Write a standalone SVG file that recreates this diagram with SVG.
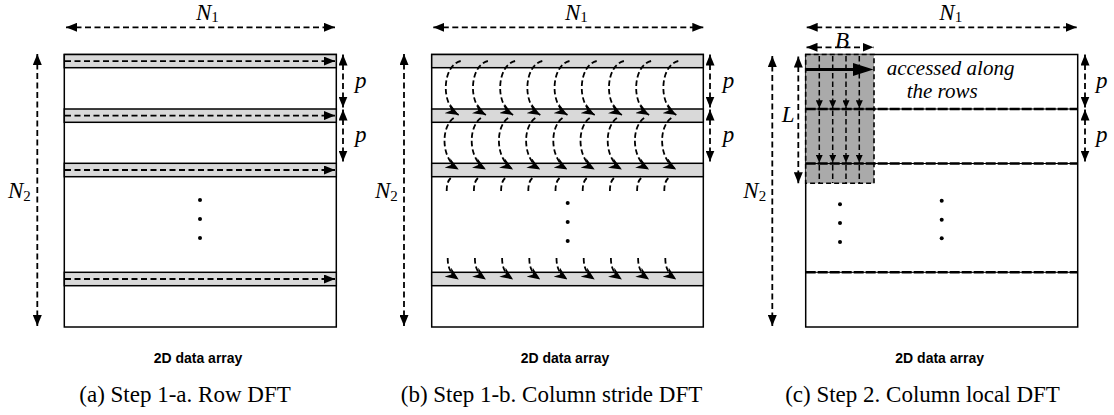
<svg xmlns="http://www.w3.org/2000/svg" xmlns:xlink="http://www.w3.org/1999/xlink" width="1114" height="415" viewBox="0 0 1114 415">
<style>
.frame{fill:#fff;stroke:#000;stroke-width:1.5}
.band{fill:#d9d9d9;stroke:#000;stroke-width:1.5}
.dash{fill:none;stroke:#000;stroke-width:1.8;stroke-dasharray:6 3.5}
.cdash{fill:none;stroke:#000;stroke-width:1.8;stroke-dasharray:5.5 3}
.math{font-family:"Liberation Serif","Times New Roman",serif;font-style:italic;font-size:23px;fill:#000}
.sub{font-style:normal;font-size:15px}
.lab{font-family:"Liberation Sans",Arial,sans-serif;font-weight:bold;font-size:14px;fill:#000;text-anchor:middle}
.cap{font-family:"Liberation Serif","Times New Roman",serif;font-size:23px;fill:#000;text-anchor:middle}
.acc{font-family:"Liberation Serif","Times New Roman",serif;font-style:italic;font-size:21px;fill:#000}
.dot{fill:#000}
</style>
<defs>
<marker id="ah" viewBox="0 0 11 9" markerWidth="11" markerHeight="9" refX="11" refY="4.5" markerUnits="userSpaceOnUse" orient="auto-start-reverse"><path d="M0,0 L11,4.5 L0,9 z" fill="#000"/></marker>
<marker id="bh" viewBox="0 0 13 11" markerWidth="13" markerHeight="11" refX="13" refY="5.5" markerUnits="userSpaceOnUse" orient="auto"><path d="M0,0 L13,5.5 L0,11 L4,5.5 z" fill="#000"/></marker>
<marker id="sh" viewBox="0 0 8 7" markerWidth="8" markerHeight="7" refX="8" refY="3.5" markerUnits="userSpaceOnUse" orient="auto"><path d="M0,0 L8,3.5 L0,7 z" fill="#000"/></marker>
<g id="col">
<path class="cdash" d="M4,61 C-14,65 -17,104 2,115" marker-end="url(#bh)"/>
<path class="cdash" d="M-3,118 C-16,127 -16,159 2,169.5" marker-end="url(#bh)"/>
<path class="cdash" d="M-6,178 C-9,181 -10,185 -10,191"/>
<path class="cdash" d="M-9,258 C-9,268 -6,274 2,279.5" marker-end="url(#bh)"/>
</g>
</defs>

<!-- Panel (a) -->
<g id="panel-a">
<rect class="frame" x="64.3" y="54.5" width="272" height="272.5"/>
<rect class="band" x="64.3" y="54.5" width="272" height="13.2"/>
<rect class="band" x="64.3" y="109" width="272" height="13.3"/>
<rect class="band" x="64.3" y="163.3" width="272" height="13.4"/>
<rect class="band" x="64.3" y="272.3" width="272" height="13.4"/>
<circle class="dot" cx="200" cy="200" r="2"/>
<circle class="dot" cx="200" cy="219" r="2"/>
<circle class="dot" cx="200" cy="238" r="2"/>
<text class="lab" x="198" y="363">2D data array</text>
<text class="cap" x="185" y="402">(a) Step 1-a. Row DFT</text>
</g>
<g id="labels-a">
<text class="math" x="196" y="20">N<tspan class="sub" dy="2">1</tspan></text>
<text class="math" x="8" y="198">N<tspan class="sub" dy="3">2</tspan></text>
<text class="math" x="355" y="88">p</text>
<text class="math" x="355" y="142">p</text>
</g>

<!-- Panel (b) -->
<g id="panel-b">
<rect class="frame" x="431.7" y="54.5" width="271.6" height="272.5"/>
<rect class="band" x="431.7" y="54.5" width="271.6" height="13.2"/>
<rect class="band" x="431.7" y="109" width="271.6" height="13.3"/>
<rect class="band" x="431.7" y="163.3" width="271.6" height="13.4"/>
<rect class="band" x="431.7" y="272.3" width="271.6" height="13.4"/>
<circle class="dot" cx="567.7" cy="203" r="2"/>
<circle class="dot" cx="567.7" cy="222" r="2"/>
<circle class="dot" cx="567.7" cy="241" r="2"/>
<text class="lab" x="565" y="363">2D data array</text>
<text class="cap" x="551.5" y="402">(b) Step 1-b. Column stride DFT</text>
</g>
<g id="labels-b">
<text class="math" x="565" y="20">N<tspan class="sub" dy="2">1</tspan></text>
<text class="math" x="375" y="198">N<tspan class="sub" dy="3">2</tspan></text>
<text class="math" x="722.7" y="88">p</text>
<text class="math" x="722.7" y="142">p</text>
</g>

<!-- Panel (c) -->
<g id="panel-c">
<rect class="frame" x="805.7" y="54.5" width="272" height="272.5"/>
<rect x="805.7" y="54.5" width="68.3" height="128.8" fill="#aaaaaa" stroke="#000" stroke-width="1.6" stroke-dasharray="5 3"/>
<g stroke="#000" fill="none">
<line x1="805.7" y1="109" x2="1077.7" y2="109" stroke-width="1"/>
<line x1="805.7" y1="109" x2="1077.7" y2="109" stroke-width="2.6" stroke-dasharray="10 2"/>
<line x1="805.7" y1="163.5" x2="1077.7" y2="163.5" stroke-width="1"/>
<line x1="805.7" y1="163.5" x2="1077.7" y2="163.5" stroke-width="2.6" stroke-dasharray="10 2"/>
<line x1="805.7" y1="272.3" x2="1077.7" y2="272.3" stroke-width="1"/>
<line x1="805.7" y1="272.3" x2="1077.7" y2="272.3" stroke-width="2.6" stroke-dasharray="10 2"/>
</g>
<circle class="dot" cx="840" cy="204.3" r="2"/>
<circle class="dot" cx="840" cy="223" r="2"/>
<circle class="dot" cx="840" cy="242" r="2"/>
<circle class="dot" cx="941.7" cy="200.7" r="2"/>
<circle class="dot" cx="941.7" cy="219.7" r="2"/>
<circle class="dot" cx="941.7" cy="238.3" r="2"/>
<text class="acc" x="886.7" y="75">accessed along</text>
<text class="acc" x="906.7" y="98">the rows</text>
<text class="lab" x="939.7" y="363">2D data array</text>
<text class="cap" x="922.5" y="402">(c) Step 2. Column local DFT</text>
</g>
<g id="labels-c">
<text class="math" x="939.3" y="20">N<tspan class="sub" dy="2">1</tspan></text>
<text class="math" x="743.3" y="198">N<tspan class="sub" dy="3">2</tspan></text>
<text class="math" x="1096" y="88">p</text>
<text class="math" x="1096" y="142">p</text>
<text class="math" x="835" y="48">B</text>
<text class="math" x="781.7" y="122">L</text>
</g>

<!-- Connectors -->
<g id="connectors">
<!-- panel a -->
<line class="dash" x1="66" y1="27.3" x2="335" y2="27.3" marker-start="url(#ah)" marker-end="url(#ah)"/>
<line class="dash" x1="37.3" y1="54" x2="37.3" y2="326" marker-start="url(#ah)" marker-end="url(#ah)"/>
<line class="dash" x1="343" y1="54.5" x2="343" y2="107.5" marker-start="url(#ah)" marker-end="url(#ah)"/>
<line class="dash" x1="343" y1="109.5" x2="343" y2="161.5" marker-start="url(#ah)" marker-end="url(#ah)"/>
<line class="dash" x1="65" y1="61.1" x2="335" y2="61.1" marker-end="url(#ah)"/>
<line class="dash" x1="65" y1="115.6" x2="335" y2="115.6" marker-end="url(#ah)"/>
<line class="dash" x1="65" y1="170" x2="335" y2="170" marker-end="url(#ah)"/>
<line class="dash" x1="65" y1="279" x2="335" y2="279" marker-end="url(#ah)"/>
<!-- panel b -->
<line class="dash" x1="433.3" y1="27.3" x2="703.3" y2="27.3" marker-start="url(#ah)" marker-end="url(#ah)"/>
<line class="dash" x1="404" y1="54" x2="404" y2="326" marker-start="url(#ah)" marker-end="url(#ah)"/>
<line class="dash" x1="710" y1="54.5" x2="710" y2="107.5" marker-start="url(#ah)" marker-end="url(#ah)"/>
<line class="dash" x1="710" y1="109.5" x2="710" y2="161.5" marker-start="url(#ah)" marker-end="url(#ah)"/>
<use xlink:href="#col" x="456.7"/>
<use xlink:href="#col" x="483.9"/>
<use xlink:href="#col" x="511.1"/>
<use xlink:href="#col" x="538.3"/>
<use xlink:href="#col" x="565.5"/>
<use xlink:href="#col" x="592.7"/>
<use xlink:href="#col" x="619.9"/>
<use xlink:href="#col" x="647.1"/>
<use xlink:href="#col" x="674.3"/>
<!-- panel c -->
<line class="dash" x1="806.7" y1="27.3" x2="1076.7" y2="27.3" marker-start="url(#ah)" marker-end="url(#ah)"/>
<line class="dash" x1="772.3" y1="56" x2="772.3" y2="326" marker-start="url(#ah)" marker-end="url(#ah)"/>
<line class="dash" x1="1085" y1="54.5" x2="1085" y2="107.5" marker-start="url(#ah)" marker-end="url(#ah)"/>
<line class="dash" x1="1085" y1="109.5" x2="1085" y2="161.5" marker-start="url(#ah)" marker-end="url(#ah)"/>
<line class="dash" x1="806.5" y1="47.3" x2="873.5" y2="47.3" marker-start="url(#ah)" marker-end="url(#ah)"/>
<line class="dash" x1="798.3" y1="56.5" x2="798.3" y2="183.3" marker-start="url(#ah)" marker-end="url(#ah)"/>
<g class="cdash" style="stroke-width:1.5">
<line x1="819.3" y1="56" x2="819.3" y2="108.3" marker-end="url(#sh)"/>
<line x1="819.3" y1="110.5" x2="819.3" y2="162.7" marker-end="url(#sh)"/>
<line x1="819.3" y1="165" x2="819.3" y2="183"/>
<line x1="832.7" y1="56" x2="832.7" y2="108.3" marker-end="url(#sh)"/>
<line x1="832.7" y1="110.5" x2="832.7" y2="162.7" marker-end="url(#sh)"/>
<line x1="832.7" y1="165" x2="832.7" y2="183"/>
<line x1="846" y1="56" x2="846" y2="108.3" marker-end="url(#sh)"/>
<line x1="846" y1="110.5" x2="846" y2="162.7" marker-end="url(#sh)"/>
<line x1="846" y1="165" x2="846" y2="183"/>
<line x1="859.3" y1="56" x2="859.3" y2="108.3" marker-end="url(#sh)"/>
<line x1="859.3" y1="110.5" x2="859.3" y2="162.7" marker-end="url(#sh)"/>
<line x1="859.3" y1="165" x2="859.3" y2="183"/>
</g>
<line x1="806" y1="69.5" x2="856" y2="69.5" stroke="#000" stroke-width="3"/>
<path d="M853,63 L873.5,69.5 L853,76 z" fill="#000"/>
</g>
</svg>
